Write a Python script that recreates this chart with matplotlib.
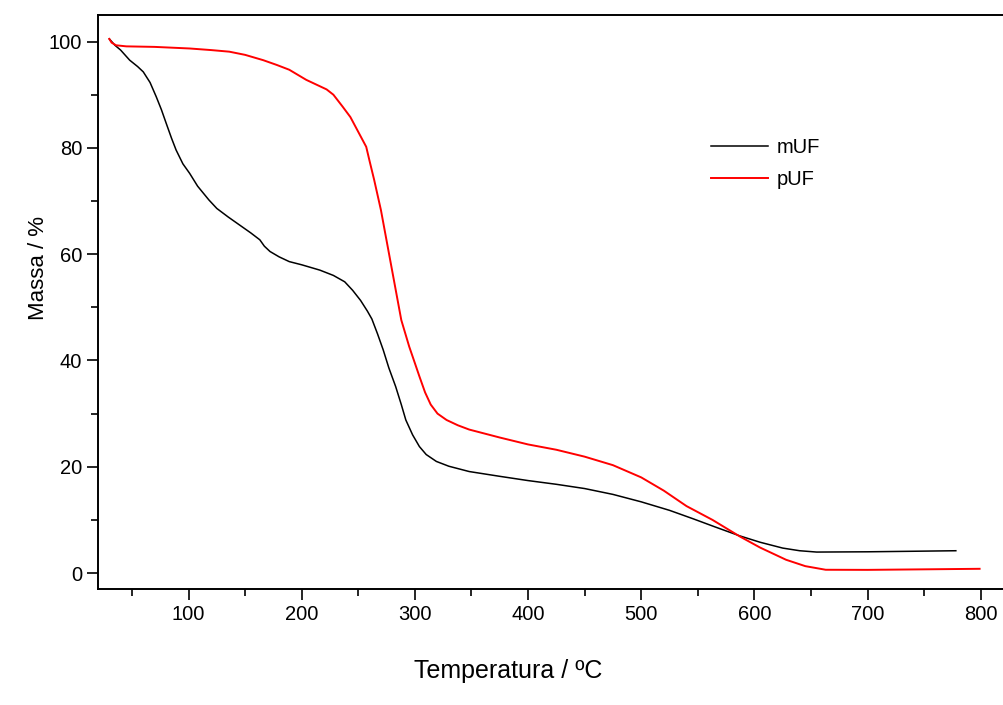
import matplotlib
matplotlib.use("Agg")
import matplotlib.pyplot as plt
from matplotlib.ticker import MultipleLocator

plt.rcParams["font.family"] = ["Liberation Sans", "DejaVu Sans"]

# mUF (curva preta)
t_muf = [30, 35, 40, 48, 55, 60, 66, 71.5, 76, 80.3, 85, 89, 95, 101, 108, 118, 125, 135,
         145, 155, 163, 167, 172, 180, 189, 200, 216, 228, 238, 245, 252, 258, 262, 267,
         272, 277, 283, 288, 292, 298, 304, 310, 319, 330, 348, 375, 400, 425, 450, 475,
         500, 525, 546, 565, 587, 605, 625, 640, 655, 700, 740, 778]
m_muf = [100.5, 99.3, 98.4, 96.5, 95.3, 94.3, 92.3, 89.6, 87.2, 84.6, 81.8, 79.6, 77.0,
         75.2, 72.8, 70.2, 68.6, 67.0, 65.5, 64.0, 62.7, 61.5, 60.5, 59.5, 58.6, 58.0,
         57.0, 56.0, 54.8, 53.2, 51.3, 49.3, 47.8, 45.0, 42.0, 38.6, 35.1, 31.7, 28.8,
         26.0, 23.8, 22.3, 21.0, 20.1, 19.1, 18.2, 17.4, 16.7, 15.9, 14.8, 13.4, 11.8,
         10.2, 8.7, 7.0, 5.8, 4.7, 4.2, 3.95, 4.0, 4.1, 4.2]

# pUF (curva vermelha)
t_puf = [30, 32, 36, 45, 70, 101, 120, 136, 150, 166, 178, 189, 204, 214, 222, 228, 236,
         243, 248, 253, 257, 260, 264, 270, 276, 282, 288, 295, 300, 304, 309, 314, 320,
         328, 338, 348, 375, 400, 425, 450, 475, 500, 520, 540, 563, 587, 605, 628, 645,
         663, 700, 750, 799]
m_puf = [100.5, 99.8, 99.3, 99.1, 99.0, 98.7, 98.4, 98.1, 97.5, 96.5, 95.6, 94.7, 92.8,
         91.8, 91.0, 90.0, 87.8, 85.8, 83.8, 81.8, 80.2, 77.5, 74.0, 68.3, 61.4, 54.5,
         47.6, 42.6, 39.5, 37.0, 34.0, 31.7, 30.0, 28.8, 27.8, 27.0, 25.5, 24.2, 23.2,
         21.9, 20.3, 18.0, 15.5, 12.6, 10.0, 6.9, 4.8, 2.5, 1.3, 0.62, 0.6, 0.7, 0.8]

fig = plt.figure(figsize=(10.04, 7.05), dpi=100)
ax = fig.add_axes([98 / 1004, 116 / 705, 928 / 1004, 574 / 705])

ax.plot(t_muf, m_muf, color="black", lw=1.1, label="mUF")
ax.plot(t_puf, m_puf, color="#ff0000", lw=1.4, label="pUF")

ax.set_xlim(20, 840)
ax.set_ylim(-3, 105)
ax.xaxis.set_major_locator(MultipleLocator(100))
ax.xaxis.set_minor_locator(MultipleLocator(50))
ax.yaxis.set_major_locator(MultipleLocator(20))
ax.yaxis.set_minor_locator(MultipleLocator(10))
ax.set_xticks([100, 200, 300, 400, 500, 600, 700, 800])

for s in ax.spines.values():
    s.set_linewidth(1.4)
ax.tick_params(which="major", direction="out", length=8, width=1.2, labelsize=14.5,
               top=False, right=False, pad=3.5)
ax.tick_params(which="minor", direction="out", length=5, width=1.2, top=False, right=False)

ax.set_xlabel("Temperatura / ºC", fontsize=18)
ax.set_ylabel("Massa / %", fontsize=16)
ax.xaxis.set_label_coords((508 - 98) / 928, -(671 - 589) / 574)
ax.yaxis.set_label_coords(-(98 - 39) / 928, 1 - (268 - 15) / 574)
ax.xaxis.label.set_verticalalignment("center")
ax.yaxis.label.set_verticalalignment("center")

ax.legend(loc="upper left", bbox_to_anchor=(0.641, 0.8166), frameon=False, fontsize=14.5,
          handlelength=2.85, handletextpad=0.4, labelspacing=0.63)

fig.savefig("out.png", dpi=100, facecolor="white")
